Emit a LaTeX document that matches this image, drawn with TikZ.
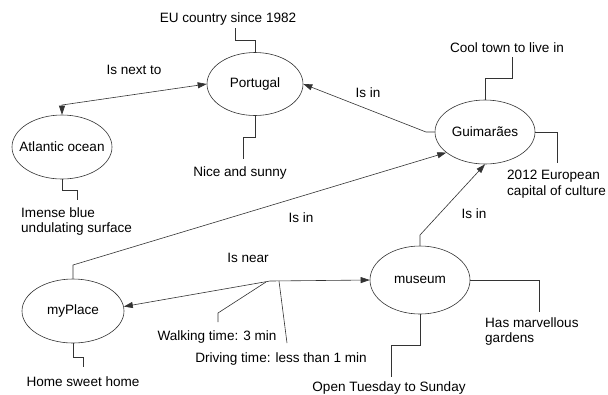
\documentclass[tikz,border=0pt]{standalone}
\usepackage{fontspec}
\setmainfont{Liberation Sans}
\usetikzlibrary{arrows.meta,shapes.geometric}
% concept labels take no width, so the ellipse size is set by the style alone
\newcommand\conceptlabel[1]{\makebox[0pt]{#1}}
\begin{document}
\begin{tikzpicture}[x=1bp,y=-1bp,
  txt/.style={font=\fontsize{13.6}{15.5}\selectfont},
  concept/.style={txt,ellipse,draw=black!80,line width=0.6bp,
    minimum width=100bp,minimum height=64bp,inner sep=0pt},
  note/.style={txt,inner sep=0pt},
  link/.style={draw=black!80,line width=0.6bp},
  tip/.style={Triangle[length=9bp,width=6bp]},
  arrow/.style={link,-{Triangle[length=9bp,width=6bp]}},
  twoway/.style={link,{Triangle[length=9bp,width=6bp]}-{Triangle[length=9bp,width=6bp]}}]
\fill[white] (0,0) rectangle (608,394);
\useasboundingbox (0,0) rectangle (608,394);

% concepts
\node[concept,minimum width=96bp,minimum height=63bp] (port) at (255,84) {\conceptlabel{Portugal}};
\node[concept] (atl) at (62,147) {\conceptlabel{Atlantic ocean}};
\node[concept] (guim) at (485,132) {\conceptlabel{Guimarães}};
\node[concept,minimum width=102bp] (place) at (73,311) {\conceptlabel{myPlace}};
\node[concept,minimum height=68bp] (mus) at (420,280) {\conceptlabel{museum}};

% relation labels
\node[note,anchor=base] (nextTo) at (134,74) {Is next to};
\node[note,anchor=base] (inA) at (368,97) {Is in};
\node[note,anchor=base] (inB) at (301,222) {Is in};
\node[note,anchor=base] (inC) at (474,218) {Is in};
\node[note,anchor=base] (near) at (248,262) {Is near};

% relations
\coordinate (seaBend) at (62,105);
\draw[twoway] (port.west) -- (seaBend) -- (atl.north);
\coordinate (guimBend) at (426,132);
\draw[arrow] (guim.west) -- (guimBend) -- (port.east);
\coordinate (placeBend) at (73,265);
\draw[arrow] (place.north) -- (placeBend) -- (guim.208);
\coordinate (musBend) at (420,235);
\draw[arrow] (mus.north) -- (musBend) -- (guim.south);
\coordinate (nearJ) at (270,281);
\draw[twoway] (place.5) -- (nearJ) -- (mus.west);

% notes (two-line notes are placed by the baseline of their last line)
\node[note,anchor=base] (eu) at (228,22) {EU country since 1982};
\coordinate (euBend) at (235,40);
\coordinate (euEnd) at (235,28);
\draw[link] (port.north) |- (euBend) -- (euEnd);

\node[note,anchor=base] (nice) at (240,176) {Nice and sunny};
\coordinate (niceBend) at (243,137);
\coordinate (niceEnd) at (243,159);
\draw[link] (port.south) |- (niceBend) -- (niceEnd);

\node[note,anchor=base west,align=left] (blue) at (21,232.5) {Imense blue\\undulating surface};
\coordinate (blueBend) at (77,190);
\coordinate (blueEnd) at (77,200);
\draw[link] (atl.south) |- (blueBend) -- (blueEnd);

\node[note,anchor=base] (cool) at (507,52) {Cool town to live in};
\coordinate (coolBend) at (512,78);
\coordinate (coolEnd) at (512,57);
\draw[link] (guim.north) |- (coolBend) -- (coolEnd);

\node[note,anchor=base west,align=left] (capital) at (507,195) {2012 European\\capital of culture};
\coordinate (capitalEnd) at (557,163);
\draw[link] (guim.east) -| (capitalEnd);

\node[note,anchor=base west,align=left] (gardens) at (485,342.5) {Has marvellous\\gardens};
\coordinate (gardensEnd) at (539,312);
\draw[link] (mus.east) -| (gardensEnd);

\node[note,anchor=base] (open) at (389,391) {Open Tuesday to Sunday};
\coordinate (openBend) at (391,345);
\coordinate (openEnd) at (391,377);
\draw[link] (mus.south) |- (openBend) -- (openEnd);

\node[note,anchor=base] (home) at (83,386) {Home sweet home};
\coordinate (homeBend) at (83,357);
\coordinate (homeEnd) at (83,367);
\draw[link] (place.south) |- (homeBend) -- (homeEnd);

\node[note,anchor=base] (walk) at (217,340) {Walking time: 3 min};
\coordinate (walkStart) at (266,282);
\coordinate (walkBend) at (218,313);
\coordinate (walkEnd) at (218,322);
\draw[link] (walkStart) -- (walkBend) -- (walkEnd);

\node[note,anchor=base] (drive) at (281,362) {Driving time: less than 1 min};
\coordinate (driveStart) at (279,281);
\coordinate (driveEnd) at (287,343);
\draw[link] (driveStart) -- (driveEnd);
\end{tikzpicture}
\end{document}
